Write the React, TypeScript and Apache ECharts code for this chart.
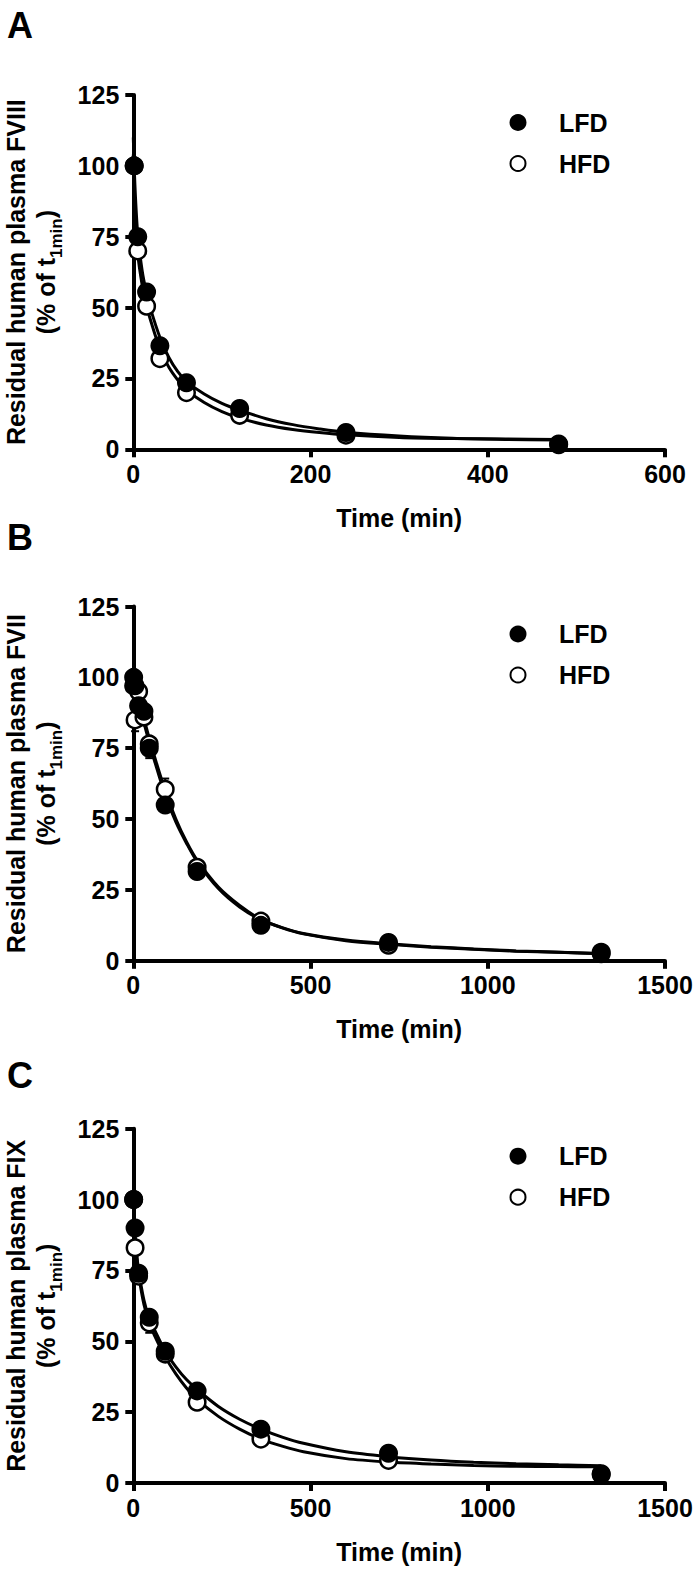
import React, { useEffect, useRef } from "react";
import * as echarts from "echarts";

const FONT = "'Liberation Sans', Arial, Helvetica, sans-serif";

// ---- tick labels ----
const yTicks = [0, 25, 50, 75, 100, 125];
const xTicksA = [0, 200, 400, 600];
const xTicksBC = [0, 500, 1000, 1500];
const legendNames = ["LFD", "HFD"];

// ---- Panel A (FVIII) ----
const timeA = [1, 5, 15, 30, 60, 120, 240, 480];
const lfdA = [100, 75, 55.5, 36.5, 23.5, 14.4, 5.9, 1.9];
const hfdA = [100, 70, 50.5, 32, 20, 12, 5, 1.6];
const lfdSemA = [0, 2, 2, 2, 1.5, 1.5, 1, 0.5];
const hfdSemA = [0, 2, 2, 2, 2, 1.5, 1, 0.5];
const fitTimeA = [0, 2, 5, 10, 15, 20, 30, 40, 50, 60, 80, 100, 120, 150, 180, 210, 240, 300, 360, 420, 480];
const fitLfdA = [110, 92, 76, 63, 55, 49, 39.5, 32.5, 27.5, 24, 19.5, 16.2, 13.8, 10.8, 8.7, 7.2, 6, 4.7, 3.9, 3.5, 3.3];
const fitHfdA = [104, 84, 69, 58, 50.5, 45, 35.5, 29, 24.5, 21, 16.5, 13.3, 11, 8.6, 7, 5.9, 5.1, 4.2, 3.8, 3.6, 3.5];

// ---- Panel B (FVII) ----
const timeB = [1, 5, 15, 30, 45, 90, 180, 360, 720, 1320];
const lfdB = [100, 97, 90, 88, 75, 55, 31.5, 12.5, 6.5, 2.5];
const hfdB = [97, 85, 95, 86, 76.5, 60.5, 33, 14, 5.5, 3];
const lfdSemB = [0, 2, 2, 2, 3.5, 1.5, 1.5, 1, 0.5, 0.5];
const hfdSemB = [1, 4, 2, 2, 2, 3.8, 1, 1, 0.5, 0.5];
const fitTimeB = [0, 15, 30, 45, 60, 90, 120, 150, 180, 240, 300, 360, 420, 480, 600, 720, 840, 960, 1080, 1200, 1320];
const fitLfdB = [100, 92, 84, 77, 70.5, 58.5, 49, 41.5, 35, 25.5, 19, 14.5, 11.7, 9.6, 7.3, 6, 5, 4.2, 3.5, 3, 2.5];
const fitHfdB = [100, 93, 85.5, 78.5, 72, 60, 50, 42, 35.5, 26, 19.5, 14.6, 11.6, 9.5, 7.1, 5.8, 4.8, 4.1, 3.4, 3, 2.6];

// ---- Panel C (FIX) ----
const timeC = [1, 5, 15, 45, 90, 180, 360, 720, 1320];
const lfdC = [100, 90, 74, 58.5, 46.5, 32.5, 19, 10.5, 3.3];
const hfdC = [100, 83, 73, 56.5, 45.5, 28.5, 15.5, 8, 3];
const lfdSemC = [0, 2, 2, 2, 1.5, 1.5, 1, 1, 0.5];
const hfdSemC = [0, 2, 2, 3.5, 1.5, 1.5, 1, 1, 0.5];
const fitTimeC = [0, 5, 10, 15, 30, 45, 60, 90, 120, 150, 180, 240, 300, 360, 420, 480, 600, 720, 840, 960, 1080, 1200, 1320];
const fitLfdC = [100, 88, 80.5, 75, 64.5, 58, 54, 46.5, 41, 36.5, 33, 27, 22.5, 19, 16.2, 14, 11, 9.3, 8.1, 7.3, 6.8, 6.4, 6.1];
const fitHfdC = [98, 86, 79, 73.5, 63, 56.5, 52, 44.5, 38.5, 33.5, 29.5, 23.5, 19, 15.5, 13, 11, 8.6, 7.4, 6.7, 6.2, 5.9, 5.8, 5.7];

const GRID_LEFT = 133.3;
const GRID_WIDTH = 531.7;
const GRID_HEIGHT = 354.3;

const panels = [
  {
    letter: "A", factor: "FVIII", top: 95, letterY: 25.5,
    xTicks: xTicksA, t: timeA, lfd: lfdA, hfd: hfdA, lfdSem: lfdSemA, hfdSem: hfdSemA,
    fitT: fitTimeA, fitL: fitLfdA, fitH: fitHfdA,
  },
  {
    letter: "B", factor: "FVII", top: 606.5, letterY: 537.5,
    xTicks: xTicksBC, t: timeB, lfd: lfdB, hfd: hfdB, lfdSem: lfdSemB, hfdSem: hfdSemB,
    fitT: fitTimeB, fitL: fitLfdB, fitH: fitHfdB,
  },
  {
    letter: "C", factor: "FIX", top: 1128.7, letterY: 1075.5,
    xTicks: xTicksBC, t: timeC, lfd: lfdC, hfd: hfdC, lfdSem: lfdSemC, hfdSem: hfdSemC,
    fitT: fitTimeC, fitL: fitLfdC, fitH: fitHfdC,
  },
];

const errorBarRender = (params: any, api: any) => {
  const x = api.value(0);
  const lo = api.value(1);
  const hi = api.value(2);
  const pLo = api.coord([x, lo]);
  const pHi = api.coord([x, hi]);
  const cap = 4;
  const st = { stroke: "#000", lineWidth: 2 };
  return {
    type: "group",
    children: [
      { type: "line", shape: { x1: pLo[0], y1: pLo[1], x2: pHi[0], y2: pHi[1] }, style: st },
      { type: "line", shape: { x1: pHi[0] - cap, y1: pHi[1], x2: pHi[0] + cap, y2: pHi[1] }, style: st },
      { type: "line", shape: { x1: pLo[0] - cap, y1: pLo[1], x2: pLo[0] + cap, y2: pLo[1] }, style: st },
    ],
  };
};

function buildOption() {
  const grid: any[] = [];
  const xAxis: any[] = [];
  const yAxis: any[] = [];
  const series: any[] = [];
  const graphic: any[] = [];

  panels.forEach((p, i) => {
    grid.push({
      left: GRID_LEFT, top: p.top, width: GRID_WIDTH, height: GRID_HEIGHT,
      containLabel: false, outerBoundsMode: "none",
    });
    const xMax = p.xTicks[p.xTicks.length - 1];
    const xInt = p.xTicks[1] - p.xTicks[0];
    xAxis.push({
      type: "value", gridIndex: i, min: p.xTicks[0], max: xMax, interval: xInt,
      name: "Time (min)", nameLocation: "middle", nameGap: 56, nameMoveOverlap: false,
      nameTextStyle: { fontSize: 25, fontWeight: "bold", fontFamily: FONT, color: "#000" },
      axisLine: { onZero: false, lineStyle: { color: "#000", width: 4 } },
      axisTick: { show: true, length: 8, lineStyle: { color: "#000", width: 4 } },
      axisLabel: {
        fontSize: 25, fontWeight: "bold", fontFamily: FONT, color: "#000", margin: 12,
        formatter: (v: number) => String(v),
      },
      splitLine: { show: false },
    });
    yAxis.push({
      type: "value", gridIndex: i, min: yTicks[0], max: yTicks[yTicks.length - 1],
      interval: yTicks[1] - yTicks[0],
      axisLine: { onZero: false, lineStyle: { color: "#000", width: 4 } },
      axisTick: { show: true, length: 8, lineStyle: { color: "#000", width: 4 } },
      axisLabel: {
        fontSize: 25, fontWeight: "bold", fontFamily: FONT, color: "#000", margin: 14,
        formatter: (v: number) => String(v),
      },
      splitLine: { show: false },
    });

    // fitted curves
    series.push({
      type: "line", name: "LFD fit", xAxisIndex: i, yAxisIndex: i,
      data: p.fitT.map((t, k) => [t, p.fitL[k]]),
      showSymbol: false, symbol: "none", smooth: 0.3,
      lineStyle: { color: "#000", width: 3 }, z: 2, silent: true,
    });
    series.push({
      type: "line", name: "HFD fit", xAxisIndex: i, yAxisIndex: i,
      data: p.fitT.map((t, k) => [t, p.fitH[k]]),
      showSymbol: false, symbol: "none", smooth: 0.3,
      lineStyle: { color: "#000", width: 3 }, z: 2, silent: true,
    });
    // error bars
    series.push({
      type: "custom", name: "HFD err", xAxisIndex: i, yAxisIndex: i,
      data: p.t.map((t, k) => [t, p.hfd[k] - p.hfdSem[k], p.hfd[k] + p.hfdSem[k]]),
      renderItem: errorBarRender, encode: { x: 0, y: [1, 2] }, z: 3, silent: true,
    });
    series.push({
      type: "custom", name: "LFD err", xAxisIndex: i, yAxisIndex: i,
      data: p.t.map((t, k) => [t, p.lfd[k] - p.lfdSem[k], p.lfd[k] + p.lfdSem[k]]),
      renderItem: errorBarRender, encode: { x: 0, y: [1, 2] }, z: 3, silent: true,
    });
    // points
    series.push({
      type: "scatter", name: "HFD", xAxisIndex: i, yAxisIndex: i,
      data: p.t.map((t, k) => [t, p.hfd[k]]),
      symbol: "circle", symbolSize: 16.5,
      itemStyle: { color: "#fff", borderColor: "#000", borderWidth: 2.5, opacity: 1 },
      z: 4, silent: true,
    });
    series.push({
      type: "scatter", name: "LFD", xAxisIndex: i, yAxisIndex: i,
      data: p.t.map((t, k) => [t, p.lfd[k]]),
      symbol: "circle", symbolSize: 19,
      itemStyle: { color: "#000", opacity: 1 },
      z: 5, silent: true,
    });

    // legend (LFD filled, HFD open)
    legendNames.forEach((nm, j) => {
      const ly = p.top + 27.5 + j * 41;
      graphic.push({
        type: "circle", shape: { cx: 518, cy: ly, r: j === 0 ? 8.5 : 7.5 },
        style: j === 0 ? { fill: "#000" } : { fill: "#fff", stroke: "#000", lineWidth: 2 },
        silent: true,
      });
      graphic.push({
        type: "text", x: 559, y: ly,
        style: {
          text: nm, fontSize: 25, fontWeight: "bold", fontFamily: FONT, fill: "#000",
          align: "left", verticalAlign: "middle", textAlign: "left", textVerticalAlign: "middle",
        },
        silent: true,
      });
    });

    // panel letter
    graphic.push({
      type: "text", x: 7, y: p.letterY,
      style: {
        text: p.letter, fontSize: 36, fontWeight: "bold", fontFamily: FONT, fill: "#000",
        align: "left", verticalAlign: "middle", textAlign: "left", textVerticalAlign: "middle",
      },
    });

    // y-axis title (rotated)
    const cy = p.top + GRID_HEIGHT / 2;
    graphic.push({
      type: "text", x: 16, y: cy, rotation: Math.PI / 2,
      style: {
        text: "Residual human plasma " + p.factor, fontSize: 25, fontWeight: "bold",
        fontFamily: FONT, fill: "#000",
        align: "center", verticalAlign: "middle", textAlign: "center", textVerticalAlign: "middle",
      },
    });
    const w1 = 76.4; // "(% of t" at 25px bold
    const w2 = 39.7; // "1min" at 17px bold
    const w3 = 8.3;  // ")"
    const y0 = cy + (w1 + w2 + w3) / 2;
    const partStyle = (text: string, size: number) => ({
      text, fontSize: size, fontWeight: "bold", fontFamily: FONT, fill: "#000",
      align: "left", verticalAlign: "middle", textAlign: "left", textVerticalAlign: "middle",
    });
    graphic.push({ type: "text", x: 46, y: y0, rotation: Math.PI / 2, style: partStyle("(% of t", 25) });
    graphic.push({ type: "text", x: 56, y: y0 - w1, rotation: Math.PI / 2, style: partStyle("1min", 17) });
    graphic.push({ type: "text", x: 46, y: y0 - w1 - w2, rotation: Math.PI / 2, style: partStyle(")", 25) });
  });

  return {
    animation: false,
    backgroundColor: "#fff",
    grid, xAxis, yAxis, series, graphic,
  };
}

export default function App() {
  const ref = useRef<HTMLDivElement>(null);
  useEffect(() => {
    document.body.style.margin = "0";
    if (!ref.current) return;
    const chart = echarts.init(ref.current, undefined, { renderer: "svg" });
    chart.setOption(buildOption() as any);
    return () => chart.dispose();
  }, []);
  return <div ref={ref} style={{ width: 700, height: 1571 }} />;
}
